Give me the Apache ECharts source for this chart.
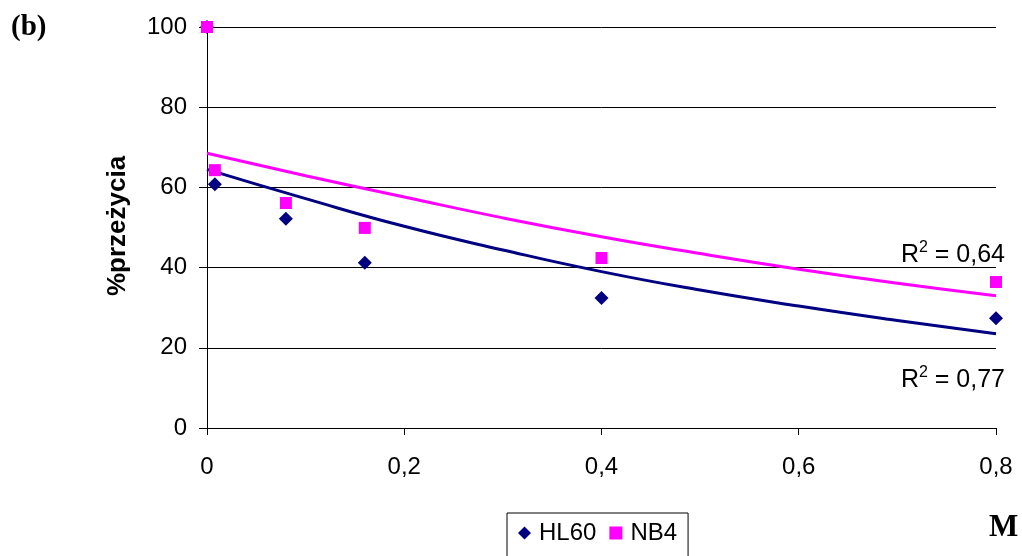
<!DOCTYPE html>
<html><head><meta charset="utf-8">
<script src="https://cdn.jsdelivr.net/npm/echarts@6/dist/echarts.min.js"></script>
<style>html,body{margin:0;padding:0;background:#fff}#c{width:1022px;height:556px}</style>
</head><body><div id="c"></div>
<script>
const doses = [0, 0.008, 0.08, 0.16, 0.4, 0.8];
const hl60 = [100, 60.8, 52.2, 41.2, 32.4, 27.4];
const nb4 = [100, 64.3, 56.1, 49.9, 42.4, 36.4];
const trendX = [0, 0.1, 0.2, 0.3, 0.4, 0.5, 0.6, 0.7, 0.8];
const hl60Trend = [64.5, 57.2, 50.3, 44.4, 39.0, 34.4, 30.4, 26.8, 23.5];
const nb4Trend = [68.5, 62.9, 57.6, 52.4, 47.7, 43.5, 39.6, 36.1, 33.0];
const yTicks = [0, 20, 40, 60, 80, 100];
const xTicks = [0, 0.2, 0.4, 0.6, 0.8];

const navy = '#000080', magenta = '#FF00FF';
const F = '"Liberation Sans", Arial, sans-serif';
const pair = (xs, ys) => xs.map((x, i) => [x, ys[i]]);
const rich = {
  n: {fontFamily: F, fontSize: 25, color: '#000', lineHeight: 30},
  s: {fontFamily: F, fontSize: 16, color: '#000', lineHeight: 30, padding: [0, 0, 14, 0]}
};

const chart = echarts.init(document.getElementById('c'));
chart.setOption({
  animation: false,
  grid: {left: 207, right: 26, top: 27, bottom: 128},
  xAxis: {
    type: 'value', min: 0, max: 0.8, interval: 0.2,
    axisLine: {show: true, onZero: false, lineStyle: {color: '#000', width: 1}},
    axisTick: {show: true, length: 7, lineStyle: {color: '#000'}},
    splitLine: {show: false},
    axisLabel: {color: '#000', fontFamily: F, fontSize: 24, margin: 27,
      formatter: v => String(+v.toFixed(1)).replace('.', ',')}
  },
  yAxis: {
    type: 'value', min: 0, max: 100, interval: 20,
    axisLine: {show: true, lineStyle: {color: '#000', width: 1}},
    axisTick: {show: true, length: 8, lineStyle: {color: '#000'}},
    splitLine: {show: true, lineStyle: {color: '#000', width: 1}},
    axisLabel: {color: '#000', fontFamily: F, fontSize: 24, margin: 20}
  },
  legend: {
    left: 507, top: 513, width: 200,
    padding: [8, 11, 30, 11],
    borderColor: '#000', borderWidth: 1, borderRadius: 0,
    itemWidth: 13, itemHeight: 13, itemGap: 13,
    textStyle: {fontFamily: F, fontSize: 24, color: '#000', padding: [0, 0, 0, 3]},
    data: [{name: 'HL60', icon: 'diamond'}, {name: 'NB4', icon: 'rect'}]
  },
  series: [
    {name: 'HL60 trend', type: 'line', data: pair(trendX, hl60Trend), smooth: true,
      showSymbol: false, lineStyle: {color: navy, width: 3}, itemStyle: {color: navy}, z: 2},
    {name: 'NB4 trend', type: 'line', data: pair(trendX, nb4Trend), smooth: true,
      showSymbol: false, lineStyle: {color: magenta, width: 3}, itemStyle: {color: magenta}, z: 2},
    {name: 'HL60', type: 'scatter', data: pair(doses, hl60), symbol: 'diamond', symbolSize: 14,
      itemStyle: {color: navy, opacity: 1}, z: 3},
    {name: 'NB4', type: 'scatter', data: pair(doses, nb4), symbol: 'rect', symbolSize: 12,
      itemStyle: {color: magenta, opacity: 1}, z: 4}
  ],
  graphic: [
    {type: 'text', left: 11, top: 13, style: {text: '(b)', font: 'bold 29px "Liberation Serif", "Times New Roman", serif', fill: '#000'}},
    {type: 'text', left: 989, top: 512, style: {text: 'M', font: 'bold 31px "Liberation Serif", "Times New Roman", serif', fill: '#000'}},
    {type: 'text', x: 118, y: 226, rotation: Math.PI / 2,
      style: {text: '%przeżycia', font: 'bold 26px ' + F, fill: '#000', align: 'center', verticalAlign: 'middle'}},
    {type: 'text', right: 17, top: 240, style: {text: '{n|R}{s|2}{n| = 0,64}', rich: rich}},
    {type: 'text', right: 17, top: 365, style: {text: '{n|R}{s|2}{n| = 0,77}', rich: rich}}
  ]
});
</script></body></html>
